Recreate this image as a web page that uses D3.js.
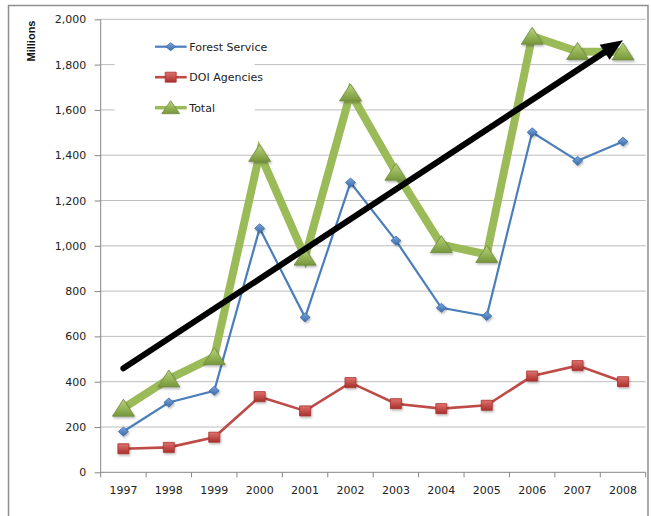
<!DOCTYPE html>
<html>
<head>
<meta charset="utf-8">
<script src="https://cdn.jsdelivr.net/npm/d3@7"></script>
<style>
  body { margin: 0; background: #fff; }
  text { font-family: "DejaVu Sans", Verdana, sans-serif; }
</style>
</head>
<body>
<div id="chart"></div>
<script>
// data (millions)
const years = ["1997", "1998", "1999", "2000", "2001", "2002", "2003", "2004", "2005", "2006", "2007", "2008"];
const forestService = [180, 308, 360, 1077, 684, 1279, 1023, 726, 690, 1501, 1375, 1460];
const doiAgencies = [104, 110, 155, 334, 271, 396, 303, 281, 296, 425, 471, 400];
const total = [283, 412, 510, 1408, 950, 1675, 1325, 1005, 962, 1925, 1858, 1856];
const yTicks = [0, 200, 400, 600, 800, 1000, 1200, 1400, 1600, 1800, 2000];
// hand drawn trend arrow, from / to
const trendYears = ["1997", "2008"];
const trendValues = [459, 1908];

const width = 651, height = 516;
const margin = ({top: 19.3, right: 5.3, bottom: 43.7, left: 100.7});
const innerW = width - margin.left - margin.right;
const innerH = height - margin.top - margin.bottom;

const svg = d3.select("#chart")
  .append("svg")
  .attr("width", width)
  .attr("height", height);

svg.append("rect").attr("width", width).attr("height", height).attr("fill", "#fff");

// outer frame
svg.append("rect")
  .attr("x", 8.5).attr("y", 5.5)
  .attr("width", 639.5).attr("height", 530)
  .attr("fill", "none")
  .attr("stroke", "#8e8e8e")
  .attr("stroke-width", 1.5);

const defs = svg.append("defs");
const shadow = defs.append("filter").attr("id", "shadow")
  .attr("x", "-50%").attr("y", "-50%").attr("width", "200%").attr("height", "200%");
shadow.append("feDropShadow")
  .attr("dx", 1).attr("dy", 1.5).attr("stdDeviation", 1)
  .attr("flood-color", "#000").attr("flood-opacity", 0.3);

function grad(id, top, bottom) {
  const g = defs.append("linearGradient").attr("id", id)
    .attr("x1", 0).attr("y1", 0).attr("x2", 0).attr("y2", 1);
  g.append("stop").attr("offset", "0%").attr("stop-color", top);
  g.append("stop").attr("offset", "100%").attr("stop-color", bottom);
}
grad("gBlue", "#7aa6dc", "#3a6aa8");
grad("gRed", "#e0726e", "#a8302c");
grad("gGreen", "#b9d47a", "#76973a");

const g = svg.append("g")
  .attr("transform", "translate(" + margin.left + "," + margin.top + ")");

const xScale = d3.scaleBand().domain(years).range([0, innerW]);
const yScale = d3.scaleLinear().domain([0, 2000]).range([innerH, 0]);
const cx = d => xScale(d) + xScale.bandwidth() / 2;

// gridlines
g.append("g")
  .selectAll("line")
  .data(yTicks.filter(d => d > 0))
  .join("line")
  .attr("x1", 0).attr("x2", innerW)
  .attr("y1", d => yScale(d)).attr("y2", d => yScale(d))
  .attr("stroke", "#bdbdbd")
  .attr("stroke-width", 1);

// y axis
const yAxis = d3.axisLeft(yScale)
  .tickValues(yTicks)
  .tickSize(6)
  .tickPadding(8.5)
  .tickFormat(d3.format(","));
const leftAxis = g.append("g").attr("class", "axis y-axis").call(yAxis);
leftAxis.select(".domain").attr("stroke", "#868686").attr("d", "M0," + innerH + "V0");
leftAxis.selectAll(".tick line").attr("stroke", "#868686");
leftAxis.selectAll("text").attr("font-size", 11).attr("fill", "#222")
  .style("font-family", "'DejaVu Sans', Verdana, sans-serif");

// x axis: labels centred, ticks on category boundaries
const xAxis = d3.axisBottom(xScale).tickSize(0).tickPadding(14);
const bottomAxis = g.append("g")
  .attr("class", "axis x-axis")
  .attr("transform", `translate(0, ${innerH})`)
  .call(xAxis);
bottomAxis.select(".domain").attr("stroke", "#868686").attr("d", "M0,0H" + innerW);
bottomAxis.selectAll("text").attr("font-size", 11).attr("fill", "#222")
  .style("font-family", "'DejaVu Sans', Verdana, sans-serif");
bottomAxis.selectAll(".bound")
  .data(years.map(d => xScale(d)).concat([innerW]))
  .join("line")
  .attr("x1", d => d).attr("x2", d => d)
  .attr("y1", 0).attr("y2", 5)
  .attr("stroke", "#868686");

// axis title
svg.append("text")
  .attr("transform", "translate(35,41) rotate(-90)")
  .attr("text-anchor", "middle")
  .style("font-family", "'Liberation Sans Narrow', 'Arial Narrow', 'Liberation Sans', sans-serif")
  .attr("font-size", 11)
  .attr("font-weight", "bold")
  .attr("fill", "#111")
  .text("Millions");

// legend box hides the grid behind it
const legend = g.append("g").attr("transform", "translate(14, 12)");
legend.append("rect")
  .attr("x", 0).attr("y", 0).attr("width", 140).attr("height", 100)
  .attr("fill", "#fff");

// marker shapes
const diamond = "M0,-4.5L5,0L0,4.5L-5,0Z";
const square = "M-5.5,-5L5.5,-5L5.5,5L-5.5,5Z";
const triangle = "M0,-9L11,8L-11,8Z";
const triSmall = "M0,-7L9,6L-9,6Z";

const series = [
  {name: "Forest Service", values: forestService, color: "#4a7ebb", width: 2.2, shape: diamond, small: "M0,-4L5,0L0,4L-5,0Z", fill: "url(#gBlue)", edge: "#3a6aa8"},
  {name: "DOI Agencies", values: doiAgencies, color: "#be4b48", width: 2.6, shape: square, small: square, fill: "url(#gRed)", edge: "#a8302c"},
  {name: "Total", values: total, color: "#9bbb59", width: 8, shape: triangle, small: triSmall, fill: "url(#gGreen)", edge: "#71893f"}
];

const line = d3.line()
  .x((d, i) => cx(years[i]))
  .y(d => yScale(d));

series.forEach(s => {
  g.append("path")
    .datum(s.values)
    .attr("fill", "none")
    .attr("stroke", s.color)
    .attr("stroke-width", s.width)
    .attr("stroke-linejoin", "miter")
    .attr("d", line);

  g.append("g")
    .selectAll("path")
    .data(s.values)
    .join("path")
    .attr("transform", (d, i) => `translate(${cx(years[i])},${yScale(d)})`)
    .attr("d", s.shape)
    .attr("fill", s.fill)
    .attr("stroke", s.edge)
    .attr("stroke-width", 0.8)
    .attr("filter", "url(#shadow)");
});

// legend entries
series.forEach((s, i) => {
  const row = legend.append("g").attr("transform", `translate(0, ${15.4 + i * 30.5})`);
  row.append("line")
    .attr("x1", 40.3).attr("x2", 72)
    .attr("stroke", s.color)
    .attr("stroke-width", s.name === "Total" ? 3.5 : s.width);
  row.append("path")
    .attr("transform", "translate(56,0)")
    .attr("d", s.small)
    .attr("fill", s.fill)
    .attr("stroke", s.edge)
    .attr("stroke-width", 0.8);
  row.append("text")
    .attr("x", 74.6).attr("y", 4)
    .attr("font-size", 11)
    .attr("fill", "#222")
    .text(s.name);
});

// trend arrow
const x0 = cx(trendYears[0]), y0 = yScale(trendValues[0]);
const x1 = cx(trendYears[1]), y1 = yScale(trendValues[1]);
const len = Math.hypot(x1 - x0, y1 - y0);
const ux = (x1 - x0) / len, uy = (y1 - y0) / len;
const headLen = 22, headHalf = 9;
const bx = x1 - ux * headLen, by = y1 - uy * headLen;

g.append("line")
  .attr("x1", x0).attr("y1", y0)
  .attr("x2", bx + ux * 2).attr("y2", by + uy * 2)
  .attr("stroke", "#000")
  .attr("stroke-width", 6)
  .attr("stroke-linecap", "round");

g.append("path")
  .attr("d", `M${x1},${y1}L${bx - uy * headHalf},${by + ux * headHalf}L${bx + uy * headHalf},${by - ux * headHalf}Z`)
  .attr("fill", "#000");
</script>
</body>
</html>
